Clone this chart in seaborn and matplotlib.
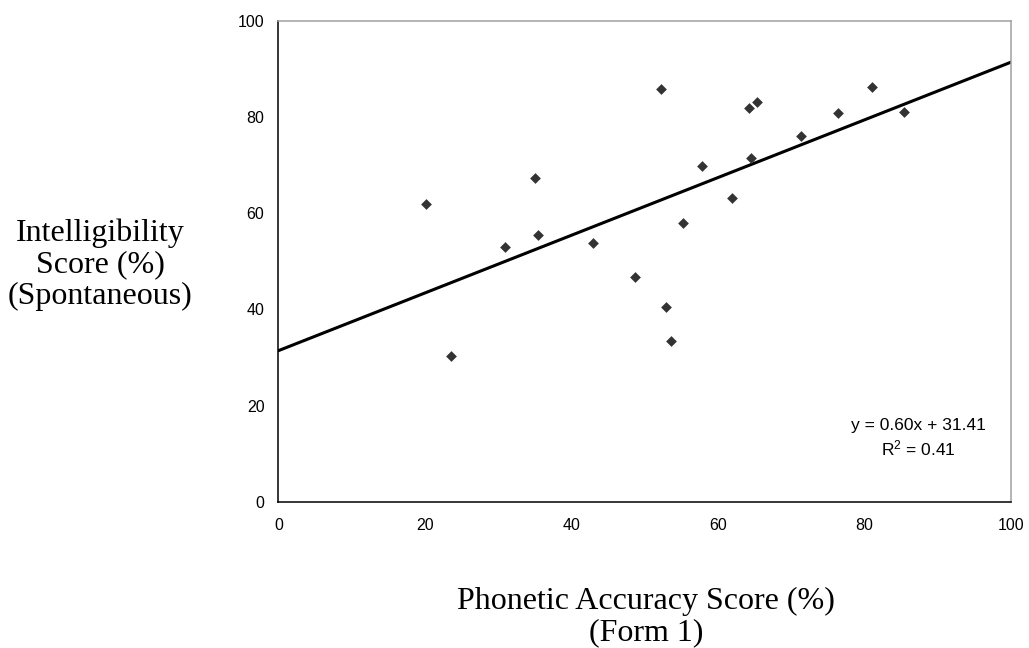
import numpy as np
import pandas as pd
import matplotlib
matplotlib.use("Agg")
import matplotlib.pyplot as plt
import seaborn as sns

# Phonetic accuracy (Form 1) vs. spontaneous-speech intelligibility, one point per speaker
phonetic_accuracy = [20.1, 23.6, 31.0, 35.1, 35.5, 43.0, 48.7, 52.3, 52.9, 53.6,
                     55.3, 57.9, 61.9, 64.3, 64.5, 65.4, 71.4, 76.4, 81.0, 85.5]
intelligibility = [61.9, 30.3, 52.9, 67.4, 55.4, 53.8, 46.8, 85.9, 40.4, 33.4,
                   58.0, 69.9, 63.2, 81.9, 71.6, 83.1, 76.1, 80.8, 86.3, 81.1]

# Linear trendline as reported on the chart
slope = 0.60
intercept = 31.41
r_squared = 0.41

tick_values = [0, 20, 40, 60, 80, 100]

df = pd.DataFrame({"x": phonetic_accuracy, "y": intelligibility})

sns.set_theme(style="white")
plt.rcParams["font.family"] = ["Liberation Sans", "DejaVu Sans"]
plt.rcParams["text.color"] = "black"
plt.rcParams["xtick.color"] = "black"
plt.rcParams["ytick.color"] = "black"

fig = plt.figure(figsize=(10.29, 6.48), dpi=100)
ax = fig.add_axes([0.2705, 0.2258, 0.7117, 0.7418])

sns.scatterplot(data=df, x="x", y="y", ax=ax, marker="D", s=30,
                color="#333333", edgecolor="#333333", linewidth=0, zorder=3)

trend_x = np.array([0, 100])
trend = pd.DataFrame({"x": trend_x, "y": slope * trend_x + intercept})
sns.lineplot(data=trend, x="x", y="y", ax=ax, color="black", linewidth=2.2, zorder=2)

ax.set_xlim(0, 100)
ax.set_ylim(0, 100)
ax.set_xticks(tick_values)
ax.set_yticks(tick_values)
ax.set_xticklabels([str(v) for v in tick_values])
ax.set_yticklabels([str(v) for v in tick_values])
ax.tick_params(axis="both", which="both", direction="out", length=4, width=1,
               color="black", labelsize=11.5, labelcolor="black")
ax.tick_params(axis="y", pad=6)
ax.tick_params(axis="x", pad=8)
ax.set_xlabel("")
ax.set_ylabel("")

for side in ["left", "bottom"]:
    ax.spines[side].set_color("black")
    ax.spines[side].set_linewidth(1.1)
for side in ["top", "right"]:
    ax.spines[side].set_color("#a0a0a0")
    ax.spines[side].set_linewidth(1.1)

serif = ["Liberation Serif", "DejaVu Serif"]
fig.text(100 / 1029, 1 - 265 / 648, "Intelligibility\nScore (%)\n(Spontaneous)",
         ha="center", va="center", fontsize=23, family=serif, linespacing=1.1,
         color="black")
fig.text(646 / 1029, 1 - 617 / 648, "Phonetic Accuracy Score (%)\n(Form 1)",
         ha="center", va="center", fontsize=23, family=serif, linespacing=1.1,
         color="black")

ax.text(0.874, 0.1325, f"y = {slope:.2f}x + {intercept:.2f}\n$\\mathregular{{R^2}}$ = {r_squared:.2f}",
        transform=ax.transAxes, ha="center", va="center", fontsize=12.5,
        linespacing=1.35, color="black")

fig.savefig("out.png", dpi=100)
